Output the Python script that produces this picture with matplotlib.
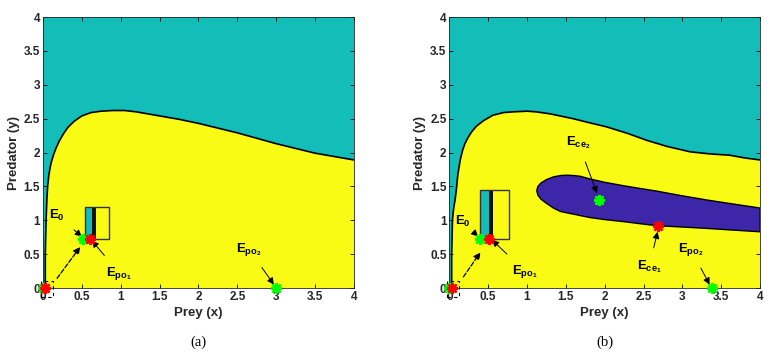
import numpy as np
import matplotlib
matplotlib.use("Agg")
import matplotlib.pyplot as plt
from matplotlib.patches import Rectangle, Polygon

plt.rcParams['font.family'] = ['Liberation Sans', 'DejaVu Sans']
plt.rcParams['mathtext.fontset'] = 'custom'
plt.rcParams['mathtext.rm'] = 'Liberation Sans:bold'
plt.rcParams['mathtext.it'] = 'Liberation Sans:bold'
plt.rcParams['mathtext.bf'] = 'Liberation Sans:bold'

CYAN = '#13beb8'
YELLOW = '#f9fb15'
PURPLE = '#3e26a8'

# boundary between cyan and yellow basins, panel (a)
bx_a = [0.03, 0.03, 0.04, 0.05, 0.06, 0.075, 0.094, 0.115, 0.14, 0.17, 0.21, 0.26, 0.32, 0.40, 0.50,
        0.62, 0.75, 0.90, 1.05, 1.20, 1.35, 1.50, 1.75, 2.00, 2.25, 2.50, 2.75, 3.00, 3.25, 3.50, 3.75, 4.00]
by_a = [0.00, 0.50, 1.00, 1.30, 1.50, 1.66, 1.79, 1.89, 1.98, 2.07, 2.17, 2.27, 2.37, 2.46, 2.54,
        2.59, 2.61, 2.62, 2.62, 2.60, 2.57, 2.54, 2.49, 2.43, 2.36, 2.29, 2.21, 2.13, 2.06, 1.99, 1.94, 1.89]

# boundary between cyan and yellow basins, panel (b)
bx_b = [0.03, 0.03, 0.04, 0.05, 0.06, 0.074, 0.09, 0.11, 0.14, 0.17, 0.20, 0.24, 0.29, 0.35, 0.44, 0.56,
        0.70, 0.82, 1.00, 1.12, 1.30, 1.59, 1.80, 2.02, 2.30, 2.54, 2.80, 3.10, 3.35, 3.61, 3.80, 4.00]
by_b = [0.00, 0.50, 1.00, 1.12, 1.21, 1.30, 1.45, 1.68, 1.89, 2.03, 2.13, 2.22, 2.31, 2.39, 2.47, 2.55,
        2.59, 2.60, 2.61, 2.60, 2.57, 2.50, 2.44, 2.38, 2.28, 2.18, 2.09, 2.01, 1.98, 1.96, 1.92, 1.89]

# purple basin in panel (b): upper and lower edges, from the left tip
px_b = [1.125, 1.14, 1.18, 1.25, 1.34, 1.43, 1.51, 1.60, 1.68, 1.81, 2.00, 2.24, 2.45, 2.67, 3.00, 3.31, 3.65, 4.00]
ptop_b = [1.437, 1.50, 1.55, 1.60, 1.64, 1.66, 1.665, 1.66, 1.65, 1.61, 1.56, 1.51, 1.47, 1.43, 1.36, 1.30, 1.24, 1.18]
pbot_b = [1.437, 1.37, 1.31, 1.25, 1.18, 1.13, 1.11, 1.09, 1.07, 1.04, 1.01, 0.98, 0.95, 0.92, 0.90, 0.88, 0.855, 0.83]

# inset boxes [x0, cyan_end, black_end, x1, y0, y1]
inset_a = [0.544, 0.63, 0.685, 0.843, 0.717, 1.20]
inset_b = [0.395, 0.515, 0.56, 0.768, 0.72, 1.447]

# equilibria
green_a = [(0.0, 0.0), (0.52, 0.73), (3.0, 0.0)]
red_a = [(0.03, 0.0), (0.60, 0.73)]
green_b = [(0.0, 0.0), (0.39, 0.73), (1.92, 1.30), (3.38, 0.0)]
red_b = [(0.03, 0.0), (0.51, 0.73), (2.69, 0.92)]

# labels: text, text position, arrow tip
labels_a = [(r'$\mathrm{E_0}$', (0.18, 1.07), (0.50, 0.76)),
            (r'$\mathrm{E_{po_1}}$', (0.98, 0.22), (0.63, 0.70)),
            (r'$\mathrm{E_{po_2}}$', (2.65, 0.57), (2.97, 0.05))]
labels_b = [(r'$\mathrm{E_0}$', (0.17, 0.98), (0.37, 0.76)),
            (r'$\mathrm{E_{po_1}}$', (0.97, 0.25), (0.55, 0.71)),
            (r'$\mathrm{E_{ce_1}}$', (2.57, 0.31), (2.68, 0.83)),
            (r'$\mathrm{E_{po_2}}$', (3.11, 0.57), (3.35, 0.05)),
            (r'$\mathrm{E_{ce_2}}$', (1.66, 2.14), (1.90, 1.40))]

dash_a = [(0.16, 0.11), (0.50, 0.64)]
dash_b = [(0.16, 0.13), (0.42, 0.56)]
ticks = [0, 0.5, 1, 1.5, 2, 2.5, 3, 3.5, 4]
tick_labels = ['0', '0.5', '1', '1.5', '2', '2.5', '3', '3.5', '4']

fig = plt.figure(figsize=(7.77, 3.58), dpi=100)
ax_a = fig.add_axes([0.0553, 0.1955, 0.4003, 0.757])
ax_b = fig.add_axes([0.5783, 0.1955, 0.400, 0.757])


def draw_panel(ax, bx, by, inset, greens, reds, labels, dash, caption):
    ax.set_facecolor(CYAN)
    poly = list(zip(bx, by)) + [(4, 0)]
    ax.add_patch(Polygon(poly, closed=True, facecolor=YELLOW, edgecolor='none', zorder=1))
    ax.plot(bx, by, color='k', lw=1.2, zorder=2, solid_joinstyle='round')

    x0, xc, xk, x1, y0, y1 = inset
    ax.add_patch(Rectangle((x0, y0), xc - x0, y1 - y0, facecolor=CYAN, edgecolor='none', zorder=3))
    ax.add_patch(Rectangle((xc, y0), xk - xc, y1 - y0, facecolor='#111111', edgecolor='none', zorder=3))
    ax.add_patch(Rectangle((xk, y0), x1 - xk, y1 - y0, facecolor=YELLOW, edgecolor='none', zorder=3))
    ax.add_patch(Rectangle((x0, y0), x1 - x0, y1 - y0, facecolor='none', edgecolor='#333333', lw=1.0, zorder=4))

    # small dashed box around the origin
    ax.add_patch(Rectangle((-0.03, -0.14), 0.16, 0.25, facecolor='none', edgecolor='k',
                           lw=0.8, ls=(0, (3, 3)), clip_on=False, zorder=5))
    ax.annotate('', xy=dash[1], xytext=dash[0],
                arrowprops=dict(arrowstyle='-|>', color='k', lw=0.9, ls='--', mutation_scale=10), zorder=6)

    for txt, pos, tip in labels:
        ax.annotate(txt, xy=tip, xytext=pos, fontsize=9.5, ha='center', va='center',
                    arrowprops=dict(arrowstyle='-|>', color='k', lw=0.7, mutation_scale=10,
                                    shrinkA=6, shrinkB=0), zorder=7)

    for gx, gy in greens:
        ax.plot(gx, gy, marker=(8, 2, 0), color='#00ff00', ms=8, mew=1.8, clip_on=False, zorder=8)
    for rx, ry in reds:
        ax.plot(rx, ry, marker=(8, 2, 0), color='#ff0000', ms=8, mew=1.8, clip_on=False, zorder=9)

    ax.set_xlim(0, 4)
    ax.set_ylim(0, 4)
    ax.set_xticks(ticks)
    ax.set_yticks(ticks)
    ax.set_xticklabels(tick_labels, fontsize=8.5, fontweight='bold', color='#262626')
    ax.set_yticklabels(tick_labels, fontsize=8.5, fontweight='bold', color='#262626')
    ax.tick_params(direction='in', top=True, right=True, length=3, width=0.6, pad=2)
    for s in ax.spines.values():
        s.set_linewidth(0.6)
        s.set_color('#262626')
    ax.set_xlabel('Prey (x)', fontsize=9.5, fontweight='bold', color='#262626', labelpad=3)
    ax.set_ylabel('Predator (y)', fontsize=9.5, fontweight='bold', color='#262626', labelpad=3)
    ax.text(0.5, -0.2, caption, transform=ax.transAxes, ha='center', va='center',
            fontsize=10.5, family='Liberation Serif')


draw_panel(ax_a, bx_a, by_a, inset_a, green_a, red_a, labels_a, dash_a, '(a)')
draw_panel(ax_b, bx_b, by_b, inset_b, green_b, red_b, labels_b, dash_b, '(b)')
purple = list(zip(px_b, ptop_b)) + list(zip(px_b[::-1], pbot_b[::-1]))
ax_b.add_patch(Polygon(purple, closed=True, facecolor=PURPLE, edgecolor='k', lw=1.0, zorder=2))

fig.savefig('out.png', dpi=100)
